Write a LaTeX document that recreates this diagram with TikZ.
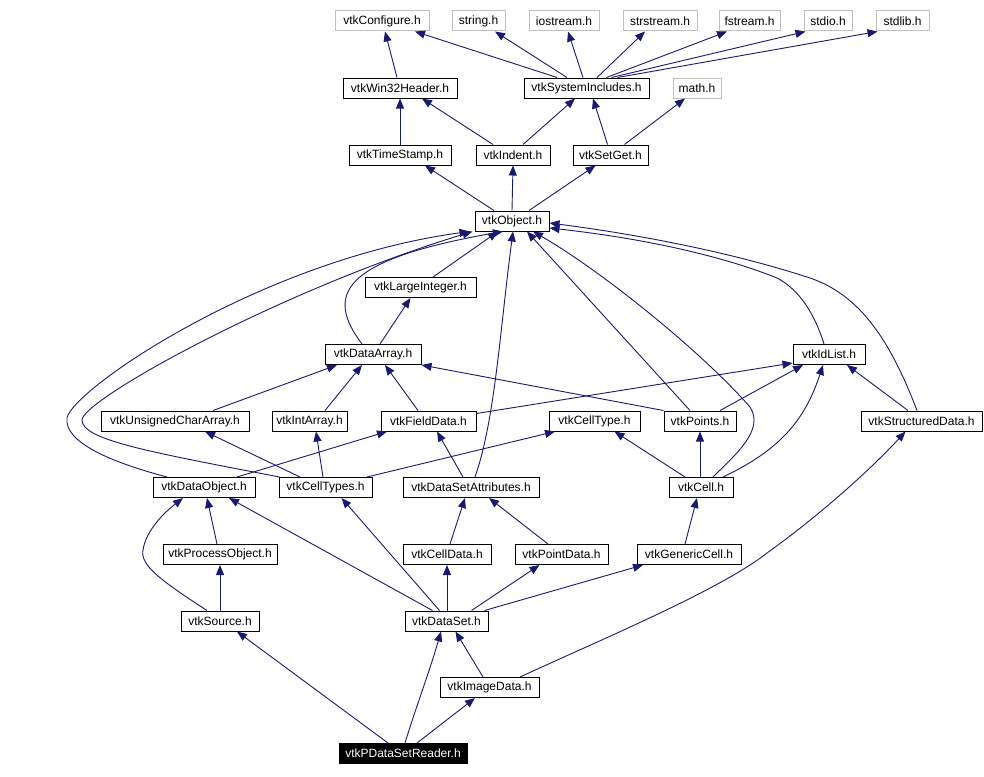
\documentclass[tikz,border=0pt]{standalone}
\usepackage{fontspec}
\setmainfont{Liberation Sans}
\usetikzlibrary{arrows.meta}
\definecolor{edgeblue}{RGB}{25,25,112}
\definecolor{boxgray}{RGB}{191,191,191}

\begin{document}
\begin{tikzpicture}[x=1pt, y=-1pt,
    hdr/.style={draw=black, line width=1pt, minimum height=20pt, inner sep=0pt,
      font=\fontsize{12}{14}\selectfont},
    syshdr/.style={hdr, draw=boxgray},
    dep/.style={edgeblue, line width=0.9pt, -{Triangle[length=10pt, width=8pt]}}]
  \useasboundingbox (0,0) rectangle (984,776);

  % System headers (gray boxes)
  \foreach \n/\x/\y/\w/\t in {cfg/382/21/94/vtkConfigure.h, str/478.5/21/53/string.h,
      ios/564/21/70/iostream.h, sst/660/21/74/strstream.h, fst/749.5/21/61/fstream.h,
      sio/828/21/48/stdio.h, slb/902.5/21/53/stdlib.h, mth/697/88/48/math.h} {
    \node[syshdr, minimum width=\w pt] (\n) at (\x,\y) {\t};
  }

  % VTK headers
  \foreach \n/\x/\y/\w/\t in {w32/400/88/114/vtkWin32Header.h, sys/586.5/88/125/vtkSystemIncludes.h,
      tst/400/155/102/vtkTimeStamp.h, ind/513/155/74/vtkIndent.h, sgt/610.5/155/75/vtkSetGet.h,
      obj/512/221/74/vtkObject.h, lint/420.5/287.5/111/vtkLargeInteger.h,
      darr/373/354.5/96/vtkDataArray.h, idl/829/354.5/72/vtkIdList.h,
      ucha/175/421/148/vtkUnsignedCharArray.h, iarr/309.5/421/75/vtkIntArray.h,
      fdat/428.5/421/95/vtkFieldData.h, ctyp/594.5/421/91/vtkCellType.h,
      pts/700/421/72/vtkPoints.h, sdat/921.5/421/121/vtkStructuredData.h,
      dobj/204/487.5/102/vtkDataObject.h, ctys/325.5/487.5/93/vtkCellTypes.h,
      dsat/471/487.5/136/vtkDataSetAttributes.h, cell/701/487.5/64/vtkCell.h,
      pobj/220/554.5/114/vtkProcessObject.h, cdat/447/554.5/88/vtkCellData.h,
      pdat/561.5/554.5/93/vtkPointData.h, gcel/689/554.5/104/vtkGenericCell.h,
      src/220/621/78/vtkSource.h, dset/446.5/621/83/vtkDataSet.h,
      img/489.5/687.5/99/vtkImageData.h} {
    \node[hdr, minimum width=\w pt] (\n) at (\x,\y) {\t};
  }
  \node[hdr, minimum width=128pt, fill=black, text=white] (rdr) at (403,753.5) {vtkPDataSetReader.h};

  % Straight include edges: child top -> parent bottom
  \foreach \a/\da/\b/\db in {w32/-3/cfg/3, sys/-29.5/cfg/33, sys/-19.5/str/16.5,
      sys/-3.5/ios/4, sys/10.5/sst/-15, sys/20/fst/-22.5, tst/0/w32/0,
      ind/-20/w32/22, ind/10/sys/-11.5, sgt/-3/sys/6.5, sgt/14/mth/-12,
      obj/-18/tst/25, obj/0/ind/0, obj/17/sgt/-15, lint/12.5/obj/-14,
      darr/7/lint/-10, ucha/38/darr/-36, iarr/15.5/darr/-11, fdat/-10.5/darr/12,
      pts/20/idl/-26, sdat/-13.5/idl/18, pts/-10/obj/15, dobj/33/fdat/-41.5,
      ctys/-25.5/ucha/30, ctys/-2.5/iarr/6.5, ctys/41.5/ctyp/-39.5,
      dsat/-8/fdat/8.5, cell/-16/ctyp/20, cell/-1/pts/0, pobj/-3/dobj/3,
      src/0/pobj/0, dset/-14/dobj/25, dset/-7/ctys/16, dset/0.5/cdat/0,
      dset/25/pdat/-22, dset/38/gcel/-46, cdat/3/dsat/-6, pdat/-13.5/dsat/18,
      gcel/-4/cell/-4, img/-6.5/dset/9, rdr/-15/src/17, rdr/14/img/-14.5} {
    \draw[dep] ([xshift=\da]\a.north) -- ([xshift=\db]\b.south);
  }

  % Remaining straight edges
  \draw[dep] ([xshift=25]sys.north) -- ([xshift=2]sio.south west);
  \draw[dep] ([xshift=31]sys.north) -- ([xshift=2]slb.south west);
  \draw[dep] ([yshift=-3]fdat.north east) -- ([yshift=2]idl.south west);
  \draw[dep] (pts.north west) -- (darr.south east);

  % Curved edges to vtkObject.h
  \draw[dep] ([xshift=-37]dobj.north) .. controls (110,462) and (64,442) .. (67,418)
    .. controls (72,390) and (260,260) .. ([xshift=-5]obj.south west);
  \draw[dep] ([xshift=1]ctys.north west) .. controls (150,452) and (82,440) .. (82,420)
    .. controls (82,400) and (280,290) .. ([xshift=-2]obj.south west);
  \draw[dep] ([xshift=-11]darr.north) .. controls (325,295) and (340,260) .. ([xshift=-9]obj.south);
  \draw[dep] ([xshift=4]dsat.north) .. controls (495,420) and (500,330) .. ([xshift=1]obj.south);
  \draw[dep] ([xshift=12]cell.north) .. controls (735,455) and (765,430) .. (750,407)
    .. controls (700,350) and (600,270) .. ([xshift=21]obj.south);
  \draw[dep] ([xshift=-5]idl.north) .. controls (815,315) and (800,290) .. (777,278)
    .. controls (720,255) and (640,238) .. ([yshift=-7]obj.east);
  \draw[dep] ([xshift=-4.5]sdat.north) .. controls (890,340) and (860,295) .. (810,278)
    .. controls (740,255) and (650,236) .. ([yshift=-2]obj.east);

  % Other curved edges
  \draw[dep] ([xshift=22]cell.north) .. controls (780,450) and (805,420) .. ([xshift=-6]idl.south);
  \draw[dep] ([xshift=-13]src.north) .. controls (160,580) and (140,565) .. (143,550)
    .. controls (146,530) and (165,512) .. ([xshift=-21]dobj.south);
  \draw[dep] ([xshift=2]rdr.north) .. controls (415,710) and (430,670) .. ([xshift=-5.5]dset.south);
  \draw[dep] ([xshift=30.5]img.north) .. controls (600,640) and (720,590) .. (767,553)
    .. controls (820,515) and (870,470) .. ([xshift=-16]sdat.south);
\end{tikzpicture}
\end{document}
